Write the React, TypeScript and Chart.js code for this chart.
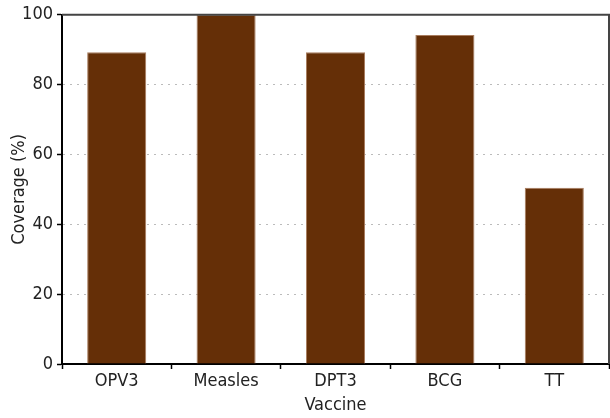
import { useEffect, useRef } from "react";
import { Chart, registerables } from "chart.js";

Chart.register(...registerables);

const vaccines = ["OPV3", "Measles", "DPT3", "BCG", "TT"];
const coverage = [89.3, 100, 89.3, 94.2, 50.5];
const yTicks = [0, 20, 40, 60, 80, 100];

const FONT = "'Liberation Sans Narrow', 'Arial Narrow', 'DejaVu Sans Condensed', sans-serif";

// top and right edges of the plot box
const frameLines = {
  id: "frameLines",
  afterDatasetsDraw(chart: Chart) {
    const { ctx, chartArea } = chart;
    ctx.save();
    ctx.strokeStyle = "#444444";
    ctx.lineWidth = 2;
    ctx.beginPath();
    ctx.moveTo(chartArea.left, chartArea.top);
    ctx.lineTo(chartArea.right, chartArea.top);
    ctx.lineTo(chartArea.right, chartArea.bottom);
    ctx.stroke();
    ctx.restore();
  },
};

export default function App() {
  const canvasRef = useRef<HTMLCanvasElement | null>(null);
  const chartRef = useRef<Chart | null>(null);

  useEffect(() => {
    if (!canvasRef.current) return;
    if (chartRef.current) chartRef.current.destroy();

    chartRef.current = new Chart(canvasRef.current, {
      type: "bar",
      data: {
        labels: vaccines,
        datasets: [
          {
            label: "Coverage",
            data: coverage,
            backgroundColor: "#652f07",
            borderColor: "#a87c5e",
            borderWidth: 1,
            borderSkipped: "bottom",
            barPercentage: 0.54,
            categoryPercentage: 1,
          },
        ],
      },
      options: {
        responsive: true,
        maintainAspectRatio: false,
        animation: false,
        layout: { padding: { top: 14, right: 1, left: 0, bottom: 0 } },
        plugins: {
          legend: { display: false },
          tooltip: { enabled: false },
        },
        scales: {
          x: {
            afterFit: (scale) => {
              scale.height = 54;
            },
            grid: {
              drawOnChartArea: false,
              tickLength: 5,
              tickColor: "#000000",
              tickWidth: 1.5,
            },
            border: { color: "#000000", width: 2 },
            ticks: {
              color: "#222222",
              padding: 2,
              font: { family: FONT, size: 18 },
            },
            title: {
              display: true,
              text: "Vaccine",
              color: "#222222",
              padding: { top: 0, bottom: 2 },
              font: { family: FONT, size: 18 },
            },
          },
          y: {
            min: 0,
            max: 100,
            afterFit: (scale) => {
              scale.width = 62;
            },
            afterBuildTicks: (scale) => {
              scale.ticks = yTicks.map((v) => ({ value: v }));
            },
            grid: {
              color: "#bbbbbb",
              lineWidth: 1,
              tickLength: 5,
              tickColor: "#000000",
              tickWidth: 1.5,
              tickBorderDash: [],
            },
            border: { color: "#000000", width: 2, dash: [2, 5] },
            ticks: {
              color: "#222222",
              padding: 4,
              font: { family: FONT, size: 18 },
            },
            title: {
              display: true,
              text: "Coverage (%)",
              color: "#222222",
              padding: { top: 9, bottom: 0 },
              font: { family: FONT, size: 18 },
            },
          },
        },
      },
      plugins: [frameLines],
    });

    return () => {
      if (chartRef.current) {
        chartRef.current.destroy();
        chartRef.current = null;
      }
    };
  }, []);

  return (
    <div style={{ position: "fixed", left: 0, top: 0, width: 610, height: 418, background: "#ffffff" }}>
      <canvas ref={canvasRef} />
    </div>
  );
}
